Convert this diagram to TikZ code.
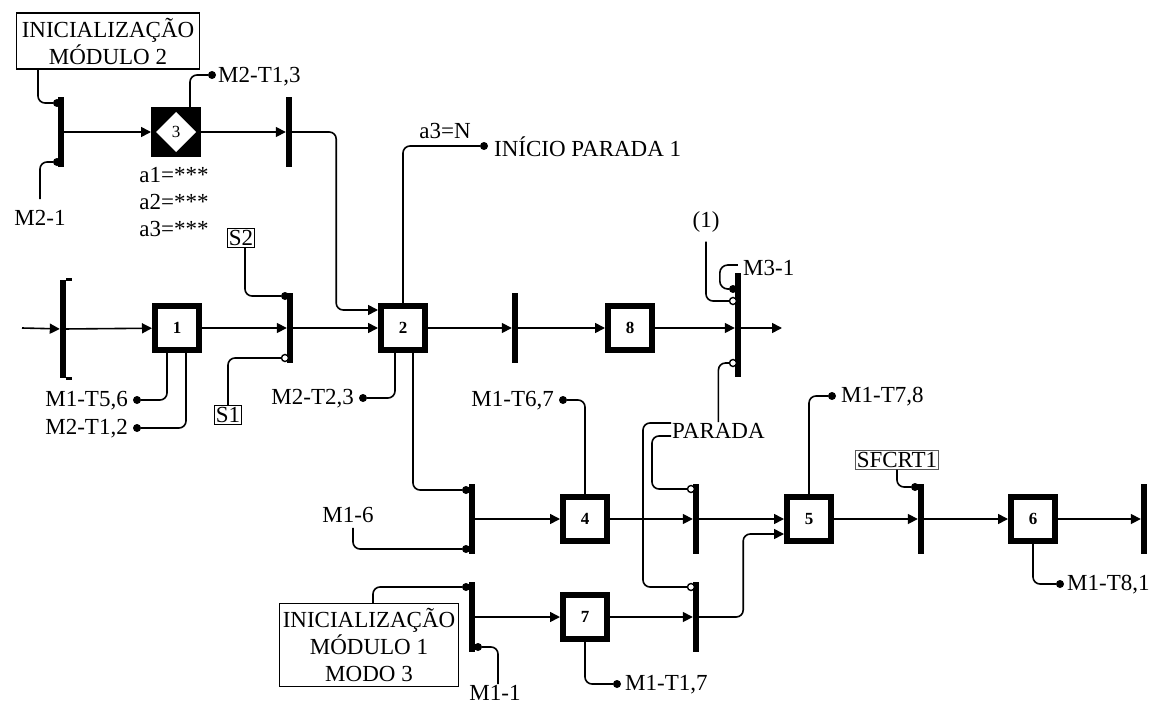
\documentclass[tikz,border=0pt]{standalone}
\usepackage{fontspec}
\setmainfont{Liberation Serif}
\usetikzlibrary{arrows.meta,positioning,calc,shapes.geometric}

\begin{document}
\begin{tikzpicture}[x=1pt, y=-1pt, font=\fontsize{23}{27}\selectfont,
  lin/.style={line width=1.6pt, rounded corners=7pt},
  ar/.style={-{Triangle[length=10pt, width=10pt]}},
  etapa/.style={draw, line width=6pt, fill=white, minimum size=44pt, inner sep=0pt,
    font=\fontsize{17}{17}\selectfont\bfseries},
  barra/.style={fill=black, minimum width=6pt, minimum height=70pt, inner sep=0pt},
  dot/.style={circle, fill=black, inner sep=0pt, minimum size=8pt},
  odot/.style={circle, draw, fill=white, line width=1.4pt, inner sep=0pt, minimum size=7pt},
  caixa/.style={draw, line width=1.3pt, fill=white, align=center, inner sep=1.5pt},
  rot/.style={inner sep=1pt}]
  \useasboundingbox (0,0) rectangle (1158,706);
  % numbered steps
  \node[etapa] (s1) at (177,328) {1};
  \node[etapa] (s2) at (403,328) {2};
  \node[etapa, fill=black] (s3) at (176,132) {};
  \fill[white] ($(s3)+(0,-20)$) -- ($(s3)+(20,0)$) -- ($(s3)+(0,20)$) -- ($(s3)+(-20,0)$) -- cycle;
  \node[font=\fontsize{17}{17}\selectfont] (s3d) at (s3) {3};
  \node[etapa] (s4) at (585,519) {4};
  \node[etapa] (s5) at (809,519) {5};
  \node[etapa] (s6) at (1033,519) {6};
  \node[etapa] (s7) at (585,617) {7};
  \node[etapa] (s8) at (630,328) {8};
  % transitions (bars)
  \node[barra, minimum height=98pt] (b0) at (63,329) {};
  \draw[line width=3pt] (b0.north east) -- ++(6,0) (b0.south east) -- ++(6,0);
  \node[barra] (b1) at (61,132) {};
  \node[barra] (b2) at (289,132) {};
  \node[barra] (b3) at (290,328) {};
  \node[barra] (b4) at (515,328) {};
  \node[barra, minimum height=104pt] (b5) at (738,325) {};
  \node[barra] (b6) at (472,519) {};
  \node[barra] (b7) at (696,519) {};
  \node[barra] (b8) at (921,519) {};
  \node[barra] (b9) at (1144,519) {};
  \node[barra] (b10) at (472,617) {};
  \node[barra] (b11) at (696,617) {};
  % dots on the bars
  \node[dot] (d1) at (57,103) {};
  \node[dot] (d2) at (57,162) {};
  \node[dot] (d6) at (285,296) {};
  \node[odot] (o1) at (285,358) {};
  \node[dot] (d10) at (733,289) {};
  \node[odot] (o2) at (733,301) {};
  \node[odot] (o3) at (733,363) {};
  \node[dot] (d9) at (466,490) {};
  \node[dot] (d15) at (466,549) {};
  \node[odot] (o4) at (691,489) {};
  \node[dot] (d13) at (915,487) {};
  \node[dot] (d16) at (466,587) {};
  \node[dot] (d17) at (478,647) {};
  \node[odot] (o5) at (691,587) {};
  % end dots of the signals
  \node[dot] (d3) at (212,75) {};
  \node[dot] (d7) at (484,146) {};
  \node[dot] (d4) at (137,400) {};
  \node[dot] (d5) at (137,428) {};
  \node[dot] (d8) at (363,398) {};
  \node[dot] (d11) at (563,400) {};
  \node[dot] (d12) at (832,396) {};
  \node[dot] (d14) at (1060,584) {};
  \node[dot] (d18) at (617,684) {};
  \coordinate (ini) at (22,328);
  \coordinate (fim) at (782,328);
  % texts
  \node[caixa, minimum width=183pt, minimum height=56pt, inner sep=0pt] (ini2) at (108,41)
    {INICIALIZAÇÃO\\MÓDULO 2};
  \node[caixa, minimum width=179pt, minimum height=83pt, inner sep=0pt] (ini1) at (369,645)
    {INICIALIZAÇÃO\\MÓDULO 1\\MODO 3};
  \node[rot, anchor=west] (m2t13) at (217,77) {M2-T1,3};
  \node[rot] (m21) at (40,218) {M2-1};
  \node[rot, align=left] (atr) at (174,202) {a1=***\\a2=***\\a3=***};
  \node[rot] (a3n) at (445,131) {a3=N};
  \node[rot, anchor=west] (inip) at (493,147) {INÍCIO PARADA 1};
  \node[rot] (um) at (706,222) {(1)};
  \node[rot, anchor=west] (m31) at (742,268) {M3-1};
  \node[caixa] (cs2) at (241,238) {S2};
  \node[caixa] (cs1) at (228,415) {S1};
  \node[rot, anchor=east] (m1t56) at (129,401) {M1-T5,6};
  \node[rot, anchor=east] (m2t12) at (129,429) {M2-T1,2};
  \node[rot, anchor=east] (m2t23) at (355,399) {M2-T2,3};
  \node[rot, anchor=east] (m1t67) at (555,401) {M1-T6,7};
  \node[rot, anchor=west] (parada) at (671,431) {PARADA};
  \node[rot, anchor=west] (m1t78) at (840,397) {M1-T7,8};
  \node[caixa, draw=gray!70!black, line width=1pt] (sf) at (897,460) {SFCRT1};
  \node[rot, anchor=west] (m1t81) at (1066,585) {M1-T8,1};
  \node[rot] (m16) at (348,515) {M1-6};
  \node[rot] (m11) at (495,693) {M1-1};
  \node[rot, anchor=west] (m1t17) at (624,685) {M1-T1,7};
  % module 2 start
  \draw[lin] ([xshift=-70pt]ini2.south) |- (d1);
  \draw[lin] ([yshift=10pt]m21.north) |- (d2);
  \draw[lin, ar] (b1) -- (s3);
  \draw[lin] ([xshift=14pt]s3.north) |- (d3);
  \draw[lin, ar] (s3) -- (b2);
  \draw[lin, ar] (b2.east) -- ++(44,0) |- ([yshift=18pt]s2.west);
  % main line
  \draw[lin, ar] (ini) -- (b0);
  \draw[lin, ar] (b0) -- (s1);
  \draw[lin] ([xshift=-10pt]s1.south) |- (d4);
  \draw[lin] ([xshift=9pt]s1.south) |- (d5);
  \draw[lin, ar] (s1) -- (b3);
  \draw[lin] ([xshift=4pt]cs2.south) |- (d6);
  \draw[lin] (cs1.north) |- (o1);
  \draw[lin, ar] (b3) -- (s2);
  \draw[lin] (s2.north) |- (d7);
  \draw[lin] ([xshift=-8pt]s2.south) |- (d8);
  \draw[lin] ([xshift=10pt]s2.south) |- (d9);
  \draw[lin, ar] (s2) -- (b4);
  \draw[lin, ar] (b4) -- (s8);
  \draw[lin, ar] (s8) -- (s8 -| b5.west);
  \draw[lin, ar] (b5.east |- s8) -- (fim);
  \draw[lin] ([yshift=-8pt]um.south) |- (o2);
  \draw[lin, rounded corners=8pt] (d10.west) -- ++(-9,0) |- ++(18,-24);
  % stop
  \draw[lin] (o3) -| (parada.north);
  \draw[lin] ([yshift=-5pt]parada.west) -- ++(-19,0) |- (o4);
  \draw[lin] ([yshift=8pt]parada.west) -- ++(-28,0) |- (o5);
  % module 1
  \draw[lin] ([shift={(5pt,-4pt)}]m16.south) |- (d15);
  \draw[lin, ar] (b6) -- (s4);
  \draw[lin] (d11) -| (s4.north);
  \draw[lin, ar] (s4) -- (b7);
  \draw[lin, ar] (b7) -- (s5);
  \draw[lin] ([xshift=4pt]ini1.north) |- (d16);
  \draw[lin, ar] (b10) -- (s7);
  \draw[lin] (d17) -| ([xshift=3pt]m11.north);
  \draw[lin] (s7.south) |- (d18);
  \draw[lin, ar] (s7) -- (b11);
  \draw[lin, ar] (b11.east) -- ++(44,0) |- ([yshift=-15pt]s5.west);
  \draw[lin] (s5.north) |- (d12);
  \draw[lin] (sf.south) |- (d13);
  \draw[lin, ar] (s5) -- (b8);
  \draw[lin, ar] (b8) -- (s6);
  \draw[lin, ar] (s6) -- (b9);
  \draw[lin] (s6.south) |- (d14);
\end{tikzpicture}
\end{document}
